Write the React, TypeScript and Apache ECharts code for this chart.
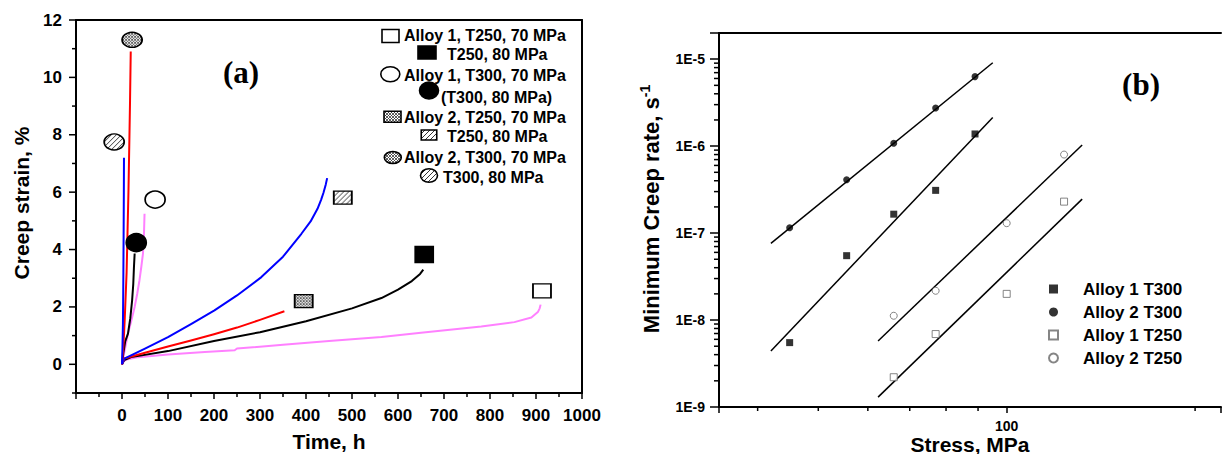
import React, { useEffect, useRef } from 'react';
import * as echarts from 'echarts';

// ---------- Panel (a): creep curves [time (h), creep strain (%)] ----------
const alloy1T250_70 = [[0, 0], [3, 0.1], [10, 0.17], [35, 0.25], [100, 0.34], [180, 0.43], [245, 0.49], [250, 0.55], [350, 0.68], [450, 0.81], [564, 0.95], [650, 1.1], [781, 1.32], [853, 1.47], [890, 1.63], [904, 1.82], [908, 1.95], [910, 2.08]];
const alloy1T250_80 = [[0, 0], [5, 0.15], [20, 0.25], [100, 0.46], [200, 0.81], [300, 1.12], [400, 1.5], [500, 1.95], [564, 2.31], [600, 2.6], [630, 2.9], [648, 3.15], [655, 3.3]];
const alloy1T300_70 = [[0, 0], [6, 0.5], [13, 1.07], [20, 1.5], [27.5, 2.0], [33, 2.45], [38, 2.93], [42, 3.4], [45.6, 3.86], [47.8, 4.55], [49, 5.25]];
const alloy1T300_80 = [[0, 0], [3, 0.4], [7, 0.8], [13, 1.07], [18, 1.6], [22, 2.23], [24.5, 2.8], [26, 3.39], [27.5, 3.86]];
const alloy2T250_70 = [[0, 0], [5, 0.2], [50, 0.4], [100, 0.62], [150, 0.83], [200, 1.05], [250, 1.28], [300, 1.55], [353, 1.85]];
const alloy2T250_80 = [[0, 0], [5, 0.2], [50, 0.55], [100, 0.95], [150, 1.4], [201, 1.88], [250, 2.4], [303, 3.04], [350, 3.75], [390, 4.55], [410, 4.98], [425, 5.42], [433, 5.74], [438, 5.98], [443, 6.27], [446, 6.49]];
const alloy2T300_70 = [[0, 0], [3, 0.6], [6, 1.6], [8, 2.4], [10, 3.2], [12, 4.6], [14, 6.0], [16, 7.8], [17.5, 9.2], [19, 10.9]];
const alloy2T300_80 = [[0, 0], [1, 0.6], [2, 1.4], [2.5, 2.2], [3, 3.2], [3.5, 4.5], [4, 6.0], [4.3, 7.2]];

// Marker positions (a) [time, strain]
const markA1T250_70 = [[913, 2.56]];
const markA1T250_80 = [[657, 3.83]];
const markA1T300_70 = [[72, 5.74]];
const markA1T300_80 = [[31, 4.24]];
const markA2T250_70 = [[395, 2.2]];
const markA2T250_80 = [[480, 5.81]];
const markA2T300_70 = [[22, 11.31]];
const markA2T300_80 = [[-17, 7.75]];

// Axis ticks (a)
const yMajorTicksA = [0, 2, 4, 6, 8, 10, 12];
const yMinorTicksA = [-1, 1, 3, 5, 7, 9, 11];

// ---------- Panel (b): minimum creep rate vs stress ----------
const stressT300 = [45, 55.5, 66, 77, 89];
const rateAlloy1T300 = [5.5e-9, 5.5e-8, 1.65e-7, 3.1e-7, 1.38e-6];
const rateAlloy2T300 = [1.15e-7, 4.1e-7, 1.08e-6, 2.75e-6, 6.3e-6];
const stressT250 = [66, 77, 100, 123.5];
const rateAlloy1T250 = [2.2e-9, 6.9e-9, 2.0e-8, 2.3e-7];
const rateAlloy2T250 = [1.12e-8, 2.17e-8, 1.3e-7, 8.0e-7];

const fitAlloy2T300 = [[42, 7.6e-8], [95, 9.1e-6]];
const fitAlloy1T300 = [[42, 4.4e-9], [95, 2.13e-6]];
const fitAlloy2T250 = [[62.3, 5.75e-9], [132, 1.03e-6]];
const fitAlloy1T250 = [[62.3, 1.3e-9], [132, 2.46e-7]];

const xMinorTicksB = [40, 50, 60, 70, 80, 90, 200];
const yDecadesB = [-9, -8, -7, -6, -5];
const yMinorMultipliersB = [2, 3, 4, 5, 6, 7, 8, 9];

const X_MIN_B = 34.7;
const X_MAX_B = 220;
const Y_MIN_B = 1e-9;
const Y_MAX_B = 2e-5;

const FONT = '"Liberation Sans", Arial, Helvetica, sans-serif';
const SERIF = '"Liberation Serif", "Times New Roman", serif';

// one diagonal "/" line per 10-unit tile
const HATCH_SVG =
  '<svg xmlns="http://www.w3.org/2000/svg" width="10" height="10"><rect width="10" height="10" fill="#ffffff"/><path d="M0 10L10 0M-2 2L2 -2M8 12L12 8" stroke="#000000" stroke-width="1.6"/></svg>';
// two crossing diagonal sets, spacing 5 units in a 10-unit tile
const CROSS_SVG =
  '<svg xmlns="http://www.w3.org/2000/svg" width="10" height="10"><rect width="10" height="10" fill="#ffffff"/><path d="M0 5L5 0M0 10L10 0M5 10L10 5M0 5L5 10M0 0L10 10M5 0L10 5" stroke="#333333" stroke-width="1.3"/></svg>';

const svgPattern = (svg: string, tileX: number, tileY: number) => ({
  image: 'data:image/svg+xml;charset=utf-8,' + encodeURIComponent(svg),
  repeat: 'repeat',
  imageWidth: tileX,
  imageHeight: tileY,
});
// sx, sy compensate a symbol path that is drawn at unit size and scaled
const fillFor = (kind: string, sx = 1, sy = 1): any => {
  if (kind === 'hatch') return svgPattern(HATCH_SVG, 5 / sx, 5 / sy);
  if (kind === 'cross') return svgPattern(CROSS_SVG, 6 / sx, 6 / sy);
  return kind;
};

const tickSeries = (xi: number, yi: number, data: number[][], dir: 'left' | 'down') => ({
  type: 'custom',
  xAxisIndex: xi,
  yAxisIndex: yi,
  silent: true,
  clip: false,
  z: 5,
  data,
  renderItem: (_params: any, api: any) => {
    const p = api.coord([api.value(0), api.value(1)]);
    const len = api.value(2);
    const shape =
      dir === 'left'
        ? { x1: p[0] - len, y1: p[1], x2: p[0], y2: p[1] }
        : { x1: p[0], y1: p[1], x2: p[0], y2: p[1] + len };
    return { type: 'line', shape, style: { stroke: '#000', lineWidth: 1.5 } };
  },
});

const lineA = (name: string, data: number[][], color: string) => ({
  name,
  type: 'line',
  xAxisIndex: 0,
  yAxisIndex: 0,
  data,
  showSymbol: false,
  symbol: 'none',
  smooth: false,
  lineStyle: { color, width: 2, join: 'round' },
  z: 3,
});

const markA = (name: string, data: number[][], symbol: string, size: number[], kind: string) => ({
  name,
  type: 'scatter',
  xAxisIndex: 0,
  yAxisIndex: 0,
  data,
  symbol,
  symbolSize: size,
  itemStyle: { color: fillFor(kind, size[0] / 2, size[1] / 2), borderColor: '#000', borderWidth: 1.6, opacity: 1 },
  z: 4,
});

const axisLineStyle = { color: '#000', width: 2 };
const boldLabel = (size: number) => ({ fontFamily: FONT, fontWeight: 'bold', fontSize: size, color: '#000' });

const legendRowsA = [
  { text: 'Alloy 1, T250, 70 MPa', tx: 404, ty: 35, shape: 'rect', cx: 390.5, cy: 36, w: 17, h: 13, fill: '#ffffff' },
  { text: 'T250, 80 MPa', tx: 447, ty: 54, shape: 'rect', cx: 427, cy: 52.5, w: 18, h: 13, fill: '#000000' },
  { text: 'Alloy 1, T300, 70 MPa', tx: 404, ty: 75, shape: 'ellipse', cx: 390.3, cy: 74.2, w: 19, h: 15, fill: '#ffffff' },
  { text: '(T300, 80 MPa)', tx: 441, ty: 97, shape: 'ellipse', cx: 429, cy: 90.5, w: 19, h: 17, fill: '#000000' },
  { text: 'Alloy 2, T250, 70 MPa', tx: 404, ty: 117, shape: 'rect', cx: 392.5, cy: 116.7, w: 17, h: 11, fill: 'cross' },
  { text: 'T250, 80 MPa', tx: 447, ty: 136, shape: 'rect', cx: 429, cy: 135, w: 15.5, h: 10, fill: 'hatch' },
  { text: 'Alloy 2, T300, 70 MPa', tx: 404, ty: 157, shape: 'ellipse', cx: 392.8, cy: 157.5, w: 17, h: 12, fill: 'cross' },
  { text: 'T300, 80 MPa', tx: 443, ty: 177, shape: 'ellipse', cx: 429, cy: 175.5, w: 17, h: 13.5, fill: 'hatch' },
];

const SQUARE_ICON = 'path://M0,0L10,0L10,10L0,10Z';

export default function App() {
  const ref = useRef<HTMLDivElement>(null);

  useEffect(() => {
    document.body.style.margin = '0';
    if (!ref.current) return;
    const chart = echarts.init(ref.current, undefined, { renderer: 'svg' });

    const legendGraphics: any[] = [];
    legendRowsA.forEach((r) => {
      const style = { fill: fillFor(r.fill), stroke: '#000', lineWidth: 1.6 };
      if (r.shape === 'rect') {
        legendGraphics.push({ type: 'rect', shape: { x: r.cx - r.w / 2, y: r.cy - r.h / 2, width: r.w, height: r.h }, style });
      } else {
        legendGraphics.push({ type: 'ellipse', shape: { cx: r.cx, cy: r.cy, rx: r.w / 2, ry: r.h / 2 }, style });
      }
      legendGraphics.push({
        type: 'text',
        x: r.tx,
        y: r.ty,
        style: {
          text: r.text,
          font: `bold 16px ${FONT}`,
          fill: '#000',
          textAlign: 'left',
          textVerticalAlign: 'middle',
          align: 'left',
          verticalAlign: 'middle',
        },
      });
    });

    const yMinorTicksB: number[] = [];
    yDecadesB.forEach((d) =>
      yMinorMultipliersB.forEach((m) => {
        const v = m * Math.pow(10, d);
        if (v < Y_MAX_B * 0.999) yMinorTicksB.push(v);
      })
    );

    const isPow10 = (v: number) => {
      const e = Math.log10(v);
      return Math.abs(e - Math.round(e)) < 1e-6;
    };

    const option: any = {
      animation: false,
      textStyle: { fontFamily: FONT },
      grid: [
        { left: 76, top: 20, width: 506, height: 373, outerBoundsMode: 'none', containLabel: false },
        { left: 719, top: 33, width: 502, height: 374, outerBoundsMode: 'none', containLabel: false },
      ],
      xAxis: [
        {
          gridIndex: 0,
          type: 'value',
          min: -100,
          max: 1000,
          interval: 100,
          position: 'bottom',
          axisLine: { onZero: false, lineStyle: axisLineStyle },
          axisTick: { length: 6, lineStyle: { color: '#000', width: 1.5 } },
          minorTick: { show: true, splitNumber: 2, length: 4, lineStyle: { color: '#000', width: 1.5 } },
          splitLine: { show: false },
          axisLabel: { ...boldLabel(17), margin: 14, formatter: (v: number) => (v < 0 ? '' : String(v)) },
          name: 'Time, h',
          nameLocation: 'middle',
          nameGap: 38,
          nameMoveOverlap: false,
          nameTextStyle: boldLabel(21),
        },
        {
          gridIndex: 0,
          type: 'value',
          min: -100,
          max: 1000,
          position: 'top',
          axisLine: { onZero: false, lineStyle: axisLineStyle },
          axisTick: { show: false },
          axisLabel: { show: false },
          splitLine: { show: false },
        },
        {
          gridIndex: 1,
          type: 'log',
          logBase: 10,
          min: X_MIN_B,
          max: X_MAX_B,
          position: 'bottom',
          axisLine: { onZero: false, lineStyle: axisLineStyle },
          axisTick: { length: 6, lineStyle: { color: '#000', width: 1.5 } },
          splitLine: { show: false },
          axisLabel: { ...boldLabel(14), margin: 12, formatter: (v: number) => (isPow10(v) ? String(Math.round(v)) : '') },
          name: 'Stress, MPa',
          nameLocation: 'middle',
          nameGap: 27,
          nameMoveOverlap: false,
          nameTextStyle: { ...boldLabel(21), lineHeight: 20 },
        },
        {
          gridIndex: 1,
          type: 'log',
          min: X_MIN_B,
          max: X_MAX_B,
          position: 'top',
          axisLine: { onZero: false, lineStyle: axisLineStyle },
          axisTick: { show: false },
          axisLabel: { show: false },
          splitLine: { show: false },
        },
      ],
      yAxis: [
        {
          gridIndex: 0,
          type: 'value',
          min: -1,
          max: 12,
          interval: 1,
          position: 'left',
          axisLine: { onZero: false, lineStyle: axisLineStyle },
          axisTick: { show: false },
          splitLine: { show: false },
          axisLabel: { ...boldLabel(17), margin: 14, formatter: (v: number) => (v >= 0 && v % 2 === 0 ? String(v) : '') },
          name: 'Creep strain, %',
          nameLocation: 'middle',
          nameGap: 44,
          nameMoveOverlap: false,
          nameTextStyle: { ...boldLabel(21), padding: [0, 0, 0, 7] },
        },
        {
          gridIndex: 0,
          type: 'value',
          min: -1,
          max: 12,
          position: 'right',
          axisLine: { onZero: false, lineStyle: axisLineStyle },
          axisTick: { show: false },
          axisLabel: { show: false },
          splitLine: { show: false },
        },
        {
          gridIndex: 1,
          type: 'log',
          logBase: 10,
          min: Y_MIN_B,
          max: Y_MAX_B,
          position: 'left',
          axisLine: { onZero: false, lineStyle: axisLineStyle },
          axisTick: { length: 9, lineStyle: { color: '#000', width: 1.5 } },
          splitLine: { show: false },
          axisLabel: {
            ...boldLabel(14),
            margin: 14,
            formatter: (v: number) => (isPow10(v) ? '1E' + Math.round(Math.log10(v)) : ''),
          },
          name: '{a|Minimum Creep rate, s}{b|-1}',
          nameLocation: 'middle',
          nameGap: 55,
          nameMoveOverlap: false,
          nameTextStyle: {
            ...boldLabel(22),
            padding: [0, 0, 0, 22],
            rich: {
              a: { ...boldLabel(22), lineHeight: 26 },
              b: { ...boldLabel(14), lineHeight: 26, verticalAlign: 'top' },
            },
          },
        },
      ],
      legend: {
        data: [
          { name: 'Alloy 1 T300', icon: SQUARE_ICON },
          { name: 'Alloy 2 T300', icon: 'circle' },
          { name: 'Alloy 1 T250', icon: SQUARE_ICON },
          { name: 'Alloy 2 T250', icon: 'circle' },
        ],
        orient: 'vertical',
        left: 1043,
        top: 274,
        itemWidth: 49,
        itemHeight: 9,
        itemGap: 3,
        symbolKeepAspect: true,
        selectedMode: false,
        textStyle: { ...boldLabel(17), lineHeight: 20 },
      },
      graphic: [
        {
          type: 'text',
          x: 241,
          y: 72,
          style: { text: '(a)', font: `bold 31px ${SERIF}`, fill: '#000', textAlign: 'center', textVerticalAlign: 'middle', align: 'center', verticalAlign: 'middle' },
        },
        {
          type: 'text',
          x: 1141,
          y: 84,
          style: { text: '(b)', font: `bold 31px ${SERIF}`, fill: '#000', textAlign: 'center', textVerticalAlign: 'middle', align: 'center', verticalAlign: 'middle' },
        },
        ...legendGraphics,
      ],
      series: [
        lineA('Alloy 1, T250, 70 MPa', alloy1T250_70, '#FF80FF'),
        lineA('Alloy 1, T250, 80 MPa', alloy1T250_80, '#000000'),
        lineA('Alloy 1, T300, 70 MPa', alloy1T300_70, '#FF80FF'),
        lineA('Alloy 1, T300, 80 MPa', alloy1T300_80, '#000000'),
        lineA('Alloy 2, T250, 70 MPa', alloy2T250_70, '#FF0000'),
        lineA('Alloy 2, T250, 80 MPa', alloy2T250_80, '#0000FF'),
        lineA('Alloy 2, T300, 70 MPa', alloy2T300_70, '#FF0000'),
        lineA('Alloy 2, T300, 80 MPa', alloy2T300_80, '#0000FF'),
        markA('mark A1 T250 70', markA1T250_70, 'rect', [18, 14], '#ffffff'),
        markA('mark A1 T250 80', markA1T250_80, 'rect', [18, 16], '#000000'),
        markA('mark A1 T300 70', markA1T300_70, 'circle', [20, 17], '#ffffff'),
        markA('mark A1 T300 80', markA1T300_80, 'circle', [20, 18], '#000000'),
        markA('mark A2 T250 70', markA2T250_70, 'rect', [18, 13], 'cross'),
        markA('mark A2 T250 80', markA2T250_80, 'rect', [18, 13], 'hatch'),
        markA('mark A2 T300 70', markA2T300_70, 'circle', [20, 15], 'cross'),
        markA('mark A2 T300 80', markA2T300_80, 'circle', [20, 16], 'hatch'),
        tickSeries(0, 0, yMajorTicksA.map((v) => [-100, v, 7]), 'left'),
        tickSeries(0, 0, yMinorTicksA.map((v) => [-100, v, 4]), 'left'),
        {
          name: 'Alloy 1 T300',
          type: 'scatter',
          xAxisIndex: 2,
          yAxisIndex: 2,
          data: stressT300.map((s, i) => [s, rateAlloy1T300[i]]),
          symbol: 'rect',
          symbolSize: 7,
          itemStyle: { color: '#000' },
          z: 4,
        },
        {
          name: 'Alloy 2 T300',
          type: 'scatter',
          xAxisIndex: 2,
          yAxisIndex: 2,
          data: stressT300.map((s, i) => [s, rateAlloy2T300[i]]),
          symbol: 'circle',
          symbolSize: 7,
          itemStyle: { color: '#000' },
          z: 4,
        },
        {
          name: 'Alloy 1 T250',
          type: 'scatter',
          xAxisIndex: 2,
          yAxisIndex: 2,
          data: stressT250.map((s, i) => [s, rateAlloy1T250[i]]),
          symbol: 'rect',
          symbolSize: 7,
          itemStyle: { color: '#fff', borderColor: '#666', borderWidth: 1 },
          z: 4,
        },
        {
          name: 'Alloy 2 T250',
          type: 'scatter',
          xAxisIndex: 2,
          yAxisIndex: 2,
          data: stressT250.map((s, i) => [s, rateAlloy2T250[i]]),
          symbol: 'circle',
          symbolSize: 7,
          itemStyle: { color: '#fff', borderColor: '#666', borderWidth: 1 },
          z: 4,
        },
        ...[fitAlloy2T300, fitAlloy1T300, fitAlloy2T250, fitAlloy1T250].map((d, i) => ({
          name: 'fit ' + i,
          type: 'line',
          xAxisIndex: 2,
          yAxisIndex: 2,
          data: d,
          showSymbol: false,
          symbol: 'none',
          lineStyle: { color: '#000', width: 1.5 },
          z: 3,
        })),
        tickSeries(2, 2, yMinorTicksB.map((v) => [X_MIN_B, v, 5]), 'left'),
        tickSeries(2, 2, xMinorTicksB.map((v) => [v, Y_MIN_B, 4]), 'down'),
      ],
    };

    chart.setOption(option);
    return () => chart.dispose();
  }, []);

  return <div ref={ref} style={{ width: 1222, height: 454 }} />;
}
